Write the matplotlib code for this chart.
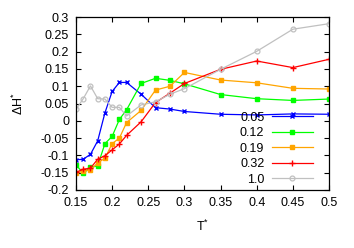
import matplotlib
matplotlib.use('Agg')
import matplotlib.pyplot as plt

plt.rcParams['font.family'] = ['Liberation Sans', 'DejaVu Sans']
plt.rcParams['mathtext.fontset'] = 'custom'
plt.rcParams['mathtext.rm'] = 'Liberation Sans'
plt.rcParams['mathtext.it'] = 'Liberation Sans'
plt.rcParams['axes.unicode_minus'] = False

# temperatures
T = [0.15, 0.16, 0.17, 0.18, 0.19, 0.20, 0.21, 0.22, 0.24, 0.26, 0.28, 0.30, 0.35, 0.40, 0.45, 0.50]

dh_005 = [-0.113, -0.111, -0.097, -0.058, 0.023, 0.085, 0.111, 0.111, 0.077, 0.038, 0.034, 0.027, 0.019, 0.017, 0.020, 0.019]
dh_012 = [-0.127, -0.152, -0.135, -0.130, -0.066, -0.045, 0.004, 0.032, 0.108, 0.123, 0.117, 0.107, 0.076, 0.064, 0.059, 0.063]
dh_019 = [-0.151, -0.146, -0.142, -0.122, -0.108, -0.066, -0.050, -0.005, 0.030, 0.089, 0.100, 0.140, 0.118, 0.110, 0.094, 0.092]
dh_032 = [-0.149, -0.140, -0.137, -0.111, -0.101, -0.084, -0.067, -0.042, -0.003, 0.053, 0.080, 0.108, 0.149, 0.173, 0.154, 0.178]
dh_100 = [0.033, 0.064, 0.101, 0.064, 0.063, 0.039, 0.039, 0.014, 0.046, 0.055, 0.077, 0.093, 0.149, 0.201, 0.265, 0.281]

labels = ['0.05', '0.12', '0.19', '0.32', '1.0']
xticks = [0.15, 0.2, 0.25, 0.3, 0.35, 0.4, 0.45, 0.5]
yticks = [-0.2, -0.15, -0.1, -0.05, 0, 0.05, 0.1, 0.15, 0.2, 0.25, 0.3]

fig = plt.figure(figsize=(3.54, 2.48), dpi=100)
ax = fig.add_axes([0.2147, 0.234, 0.7147, 0.697])

lw = 0.9
ax.plot(T, dh_005, '-', color='#0000ff', lw=lw, marker='x', ms=3.5, mew=1.0, label=labels[0])
ax.plot(T, dh_012, '-', color='#00ff00', lw=lw, marker='s', ms=3.2, label=labels[1])
ax.plot(T, dh_019, '-', color='#ffa500', lw=lw, marker='s', ms=3.2, label=labels[2])
ax.plot(T, dh_032, '-', color='#ff0000', lw=lw, marker='+', ms=4, mew=1.0, label=labels[3])
ax.plot(T, dh_100, '-', color='#c0c0c0', lw=lw, marker='o', ms=3.5, mfc='none', mew=0.9, label=labels[4])

ax.set_xlim(0.15, 0.5)
ax.set_ylim(-0.2, 0.3)
ax.set_xticks(xticks)
ax.set_xticklabels(['%g' % v for v in xticks])
ax.set_yticks(yticks)
ax.set_yticklabels(['%g' % v for v in yticks])
ax.tick_params(direction='in', length=3.5, width=0.8, top=True, right=True, labelsize=9, pad=5)
for s in ax.spines.values():
    s.set_linewidth(0.9)

ax.set_xlabel(r'T$^{*}$', fontsize=9, labelpad=7)
ax.set_ylabel(r'$\Delta$H$^{*}$', fontsize=9, labelpad=11)

ax.legend(loc='lower right', bbox_to_anchor=(0.937, 0.025), frameon=False, markerfirst=False,
          fontsize=9, handlelength=3.3, handletextpad=0.6, labelspacing=0.28,
          borderpad=0, borderaxespad=0)

fig.savefig('out.png', dpi=100)
